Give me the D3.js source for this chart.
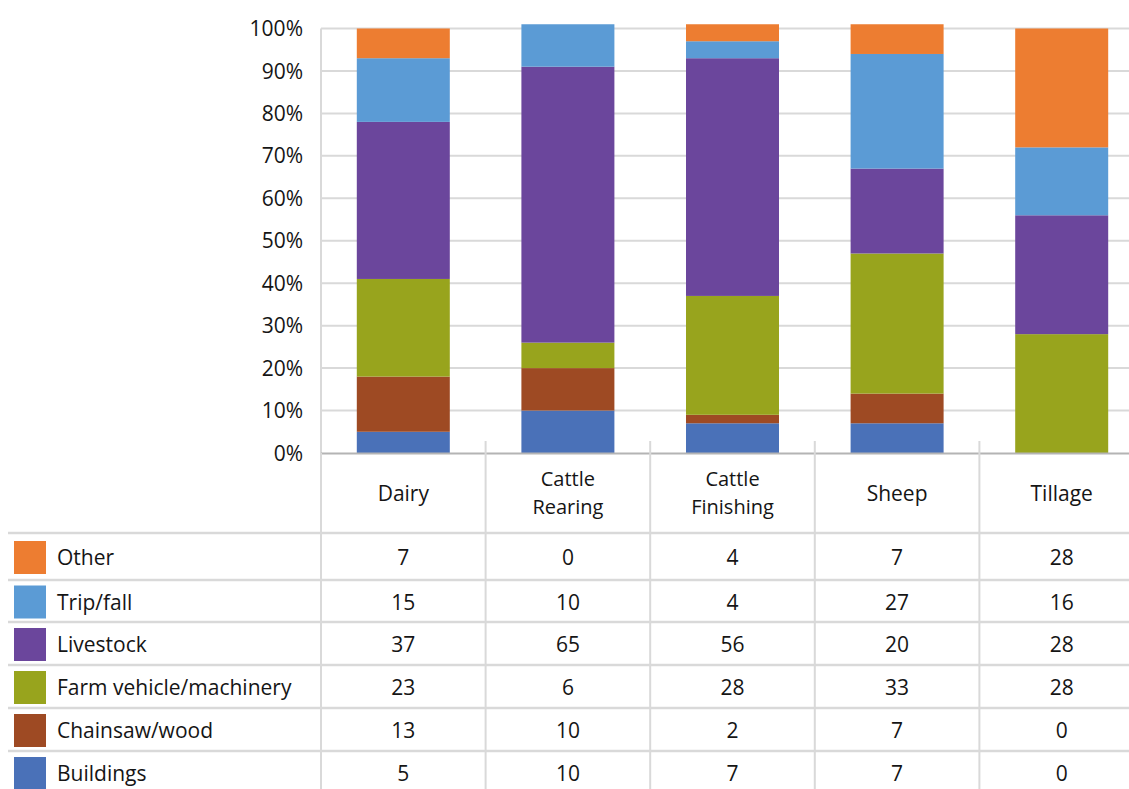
<!DOCTYPE html>
<html><head><meta charset="utf-8">
<script src="https://cdn.jsdelivr.net/npm/d3@7"></script>
<style>
html,body{margin:0;padding:0;background:#fff;}
svg text{font-family:"Open Sans",Lato,sans-serif;fill:#151515;}
</style></head>
<body>
<svg id="chart" width="1129" height="789"></svg>
<script>
const categories = ["Dairy", "Cattle Rearing", "Cattle Finishing", "Sheep", "Tillage"];
const categoryLines = [["Dairy"], ["Cattle", "Rearing"], ["Cattle", "Finishing"], ["Sheep"], ["Tillage"]];
// series listed bottom-to-top in the stack
const seriesNames = ["Buildings", "Chainsaw/wood", "Farm vehicle/machinery", "Livestock", "Trip/fall", "Other"];
const buildings = [5, 10, 7, 7, 0];
const chainsaw = [13, 10, 2, 7, 0];
const farmVehicle = [23, 6, 28, 33, 28];
const livestock = [37, 65, 56, 20, 28];
const tripFall = [15, 10, 4, 27, 16];
const other = [7, 0, 4, 7, 28];
const yTicks = [0, 10, 20, 30, 40, 50, 60, 70, 80, 90, 100];
const colors = ["#4A71B8", "#9E4A23", "#98A41D", "#6B469C", "#5B9BD5", "#ED7D31"];

(function () {
const FS = 21;
const seriesValues = [buildings, chainsaw, farmVehicle, livestock, tripFall, other];
const rows = categories.map((c, i) => {
  const r = {cat: c};
  seriesNames.forEach((s, j) => r[s] = seriesValues[j][i]);
  return r;
});
const stacked = d3.stack().keys(seriesNames)(rows);

const svg = d3.select("#chart");
const pLeft = 321, pRight = 1144, pTop = 28.5, pBottom = 453;
const x = d3.scaleBand().domain(categories).range([pLeft, pRight]).paddingInner(0.435).paddingOuter(0.2175);
const y = d3.scaleLinear().domain([0, 100]).range([pBottom, pTop]);
const step = x.step();
const grid = "#d9d9d9";

svg.append("g").selectAll("line").data(yTicks.filter(t => t > 0)).join("line")
  .attr("x1", pLeft).attr("x2", 1129).attr("y1", d => y(d)).attr("y2", d => y(d))
  .attr("stroke", grid).attr("stroke-width", 2);
svg.append("line").attr("x1", pLeft).attr("x2", pLeft).attr("y1", y(100)).attr("y2", pBottom)
  .attr("stroke", grid).attr("stroke-width", 2);

svg.append("g").selectAll("text").data(yTicks).join("text")
  .attr("x", 303).attr("y", d => y(d)).attr("dy", "0.36em")
  .attr("text-anchor", "end").attr("font-size", FS).text(d => d + "%");

svg.append("g").selectAll("g").data(stacked).join("g")
  .attr("fill", (d, i) => colors[i])
  .selectAll("rect").data(d => d).join("rect")
  .attr("x", d => x(d.data.cat)).attr("width", x.bandwidth())
  .attr("y", d => y(d[1])).attr("height", d => y(d[0]) - y(d[1]));

const rowTops = [533, 580, 622, 665, 708, 751];
const rowBottoms = rowTops.slice(1).concat([794]);
svg.append("line").attr("x1", pLeft).attr("x2", 1129).attr("y1", pBottom + 0.5).attr("y2", pBottom + 0.5)
  .attr("stroke", "#b4b4b4").attr("stroke-width", 2);
svg.append("g").selectAll("line").data(rowTops).join("line")
  .attr("x1", 8).attr("x2", 1129).attr("y1", d => d).attr("y2", d => d)
  .attr("stroke", grid).attr("stroke-width", 2.5);
const divs = d3.range(categories.length + 1).map(i => pLeft + i * step);
svg.append("g").selectAll("line").data(divs).join("line")
  .attr("x1", d => d).attr("x2", d => d)
  .attr("y1", (d, i) => i === 0 ? pBottom : pBottom - 12).attr("y2", 789)
  .attr("stroke", grid).attr("stroke-width", 2);

const hdr = svg.append("g");
categories.forEach((d, i) => {
  const lines = categoryLines[i];
  lines.forEach((ln, k) => {
    hdr.append("text").attr("text-anchor", "middle").attr("font-size", lines.length > 1 ? 20 : FS)
      .attr("x", x(d) + x.bandwidth() / 2)
      .attr("y", 493 + (k - (lines.length - 1) / 2) * 27.6).attr("dy", "0.36em").text(ln);
  });
});

const legendOrder = seriesNames.map((s, i) => i).reverse();
legendOrder.forEach((si, r) => {
  const mid = (rowTops[r] + rowBottoms[r]) / 2 + 1;
  svg.append("rect").attr("x", 14).attr("y", mid - 16.5).attr("width", 32).attr("height", 33)
    .attr("fill", colors[si]);
  svg.append("text").attr("x", 57).attr("y", mid).attr("dy", "0.36em")
    .attr("font-size", FS).text(seriesNames[si]);
  categories.forEach((c, ci) => {
    svg.append("text").attr("x", x(c) + x.bandwidth() / 2).attr("y", mid).attr("dy", "0.36em")
      .attr("text-anchor", "middle").attr("font-size", FS).text(seriesValues[si][ci]);
  });
});
})();
</script>
</body></html>
